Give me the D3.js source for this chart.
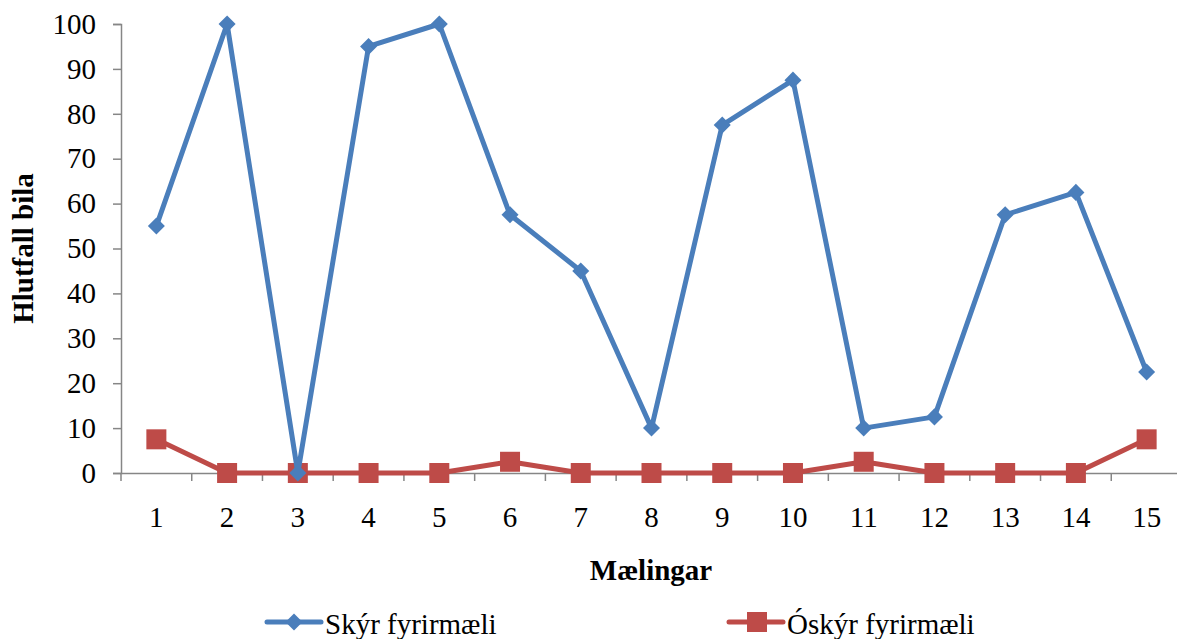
<!DOCTYPE html>
<html>
<head>
<meta charset="utf-8">
<script src="https://cdn.jsdelivr.net/npm/d3@7"></script>
<style>
  body { margin: 0; background: #fff; }
</style>
</head>
<body>
<div id="chart"></div>
<script>
// data
var categories = [1, 2, 3, 4, 5, 6, 7, 8, 9, 10, 11, 12, 13, 14, 15];
var skyr = [55, 100, 0, 95, 100, 57.5, 45, 10, 77.5, 87.5, 10, 12.5, 57.5, 62.5, 22.5];
var oskyr = [7.5, 0, 0, 0, 0, 2.5, 0, 0, 0, 0, 2.5, 0, 0, 0, 7.5];
var yTicks = [0, 10, 20, 30, 40, 50, 60, 70, 80, 90, 100];
var seriesNames = ['Skýr fyrirmæli', 'Óskýr fyrirmæli'];

var width = 1177;
var height = 639;
var margin = { top: 24, right: -5, bottom: 166, left: 121 };
var font = "'Liberation Serif'";

var svg = d3.select('#chart').append('svg').attr('width', width).attr('height', height);

var x = d3
	.scaleBand()
	.domain(categories)
	.range([ margin.left, width - margin.right ]);

var y = d3
	.scaleLinear()
	.domain([ 0, 100 ])
	.range([ height - margin.bottom, margin.top ]);

var axisColor = '#868686';

// y axis
var yAxis = svg
	.append('g')
	.attr('transform', `translate(${margin.left},0)`)
	.call(d3.axisLeft(y).tickValues(yTicks).tickSize(8).tickPadding(17));

// x axis
var xAxis = svg
	.append('g')
	.attr('transform', `translate(0,${y(0)})`)
	.call(d3.axisBottom(x).tickSize(0).tickPadding(33));
xAxis.selectAll('text').attr('dy', '0.71em');

svg.selectAll('.tick text').style('font-family', font).style('font-size', '29px').attr('fill', '#000');

// tick marks between categories
var bounds = categories.map((d) => x(d)).concat([ x(categories[categories.length - 1]) + x.bandwidth() ]);
xAxis
	.selectAll('line.sep')
	.data(bounds)
	.enter()
	.append('line')
	.attr('class', 'sep')
	.attr('x1', (d) => d)
	.attr('x2', (d) => d)
	.attr('y1', 0)
	.attr('y2', 8);

svg.selectAll('.domain, .tick line, line.sep').attr('stroke', axisColor).attr('stroke-width', 1.5);

// axis titles
svg
	.append('text')
	.attr('transform', `translate(33,${(y(0) + y(100)) / 2}) rotate(-90)`)
	.attr('text-anchor', 'middle')
	.style('font-family', font)
	.style('font-size', '29px')
	.style('font-weight', 'bold')
	.text('Hlutfall bila');

svg
	.append('text')
	.attr('x', 651)
	.attr('y', 580)
	.attr('text-anchor', 'middle')
	.style('font-family', font)
	.style('font-size', '29px')
	.style('font-weight', 'bold')
	.text('Mælingar');

var cx = (d) => x(d) + x.bandwidth() / 2;

var line = d3
	.line()
	.x((d, i) => cx(categories[i]))
	.y((d) => y(d));

var blue = '#4a7ebb';
var red = '#be4b48';

// Óskýr series
svg.append('path').datum(oskyr).attr('d', line).attr('fill', 'none').attr('stroke', red).attr('stroke-width', 5).attr('stroke-linejoin', 'round');
svg
	.append('g')
	.selectAll('rect')
	.data(oskyr)
	.enter()
	.append('rect')
	.attr('x', (d, i) => cx(categories[i]) - 10)
	.attr('y', (d) => y(d) - 10)
	.attr('width', 20)
	.attr('height', 20)
	.attr('fill', red);

// Skýr series
svg.append('path').datum(skyr).attr('d', line).attr('fill', 'none').attr('stroke', blue).attr('stroke-width', 5).attr('stroke-linejoin', 'round');
var diamond = d3.symbol().type(d3.symbolDiamond2).size(185);
svg
	.append('g')
	.selectAll('path')
	.data(skyr)
	.enter()
	.append('path')
	.attr('d', diamond)
	.attr('transform', (d, i) => `translate(${cx(categories[i])},${y(d)})`)
	.attr('fill', blue);

// legend
var legend = [
	{ name: seriesNames[0], color: blue, x: 267, marker: 'diamond' },
	{ name: seriesNames[1], color: red, x: 729, marker: 'square' }
];
var ly = 622;
legend.forEach(function(l) {
	var g = svg.append('g');
	g.append('line').attr('x1', l.x).attr('x2', l.x + 54).attr('y1', ly).attr('y2', ly).attr('stroke', l.color).attr('stroke-width', 5).attr('stroke-linecap', 'round');
	if (l.marker === 'diamond') {
		g.append('path').attr('d', diamond).attr('transform', `translate(${l.x + 27},${ly})`).attr('fill', l.color);
	} else {
		g.append('rect').attr('x', l.x + 18).attr('y', ly - 10).attr('width', 20).attr('height', 20).attr('fill', l.color);
	}
	g.append('text').attr('x', l.x + 58).attr('y', ly + 12).style('font-family', font).style('font-size', '29px').text(l.name);
});
</script>
</body>
</html>
